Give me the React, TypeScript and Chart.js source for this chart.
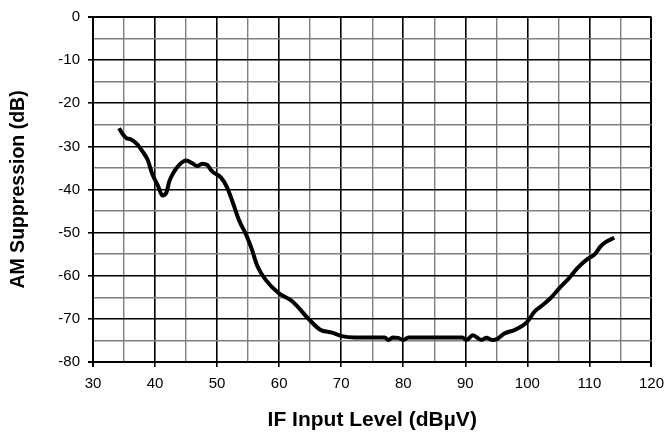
import { useEffect, useRef } from 'react';
import { Chart, ChartConfiguration, registerables } from 'chart.js';

Chart.register(...registerables);

// Input level (dBuV) and AM suppression (dB)
const inputLevel = [
  34.2, 34.8, 35.4, 36.0, 36.9, 38.0, 38.8, 39.6, 40.4, 41.2,
  41.8, 42.3, 43.1, 43.9, 45.0, 46.0, 46.8, 47.6, 48.4, 49.2,
  50.6, 51.6, 52.4, 53.5, 54.8, 55.6, 56.5, 57.8, 59.9, 62.1,
  64.8, 66.6, 68.5, 70.1, 72.2, 75.0, 77.0, 77.6, 78.3, 79.2,
  80.0, 80.8, 85.0, 89.5, 90.2, 91.2, 92.6, 93.4, 94.4, 95.2,
  96.3, 97.9, 99.3, 100.1, 101.1, 102.2, 103.8, 105.2, 106.5, 108.1,
  109.7, 110.8, 111.8, 112.6, 114.0,
];
const suppression = [
  -25.8, -27.2, -28.1, -28.3, -29.2, -31.2, -33.1, -36.6, -38.9, -41.4,
  -40.8, -38.1, -35.8, -34.3, -33.3, -33.9, -34.6, -34.0, -34.3, -35.8,
  -37.2, -39.5, -42.5, -47.0, -50.9, -53.9, -57.8, -60.9, -64.0, -65.9,
  -70.1, -72.5, -73.2, -74.0, -74.3, -74.3, -74.3, -74.9, -74.3, -74.4,
  -74.9, -74.3, -74.3, -74.3, -74.9, -73.8, -74.9, -74.4, -74.9, -74.6,
  -73.4, -72.6, -71.5, -70.5, -68.4, -67.1, -65.1, -62.8, -60.9, -58.2,
  -56.1, -55.1, -53.2, -52.2, -51.2,
];

const xMin = 30;
const xMax = 120;
const yMin = -80;
const yMax = 0;

const isMajor = (v: number) => Math.abs(v % 10) < 1e-6;

const App = () => {
  const canvasRef = useRef<HTMLCanvasElement>(null);
  const chartRef = useRef<Chart | null>(null);

  useEffect(() => {
    document.body.style.margin = '0';
    if (!canvasRef.current) return;
    const ctx = canvasRef.current.getContext('2d');
    if (!ctx) return;

    Chart.defaults.font.family = "'Liberation Sans', Arial, sans-serif";
    Chart.defaults.color = '#000000';

    const gridColor = (c: any) => (isMajor(c.tick.value) ? '#000000' : '#7f7f7f');
    const tickColor = (c: any) => (isMajor(c.tick.value) ? '#000000' : 'rgba(0,0,0,0)');
    const gridWidth = (edgeA: number, edgeB: number) => (c: any) => {
      const v = c.tick.value;
      if (v === edgeA || v === edgeB) return 2;
      return isMajor(v) ? 1.6 : 1.4;
    };

    const config: ChartConfiguration = {
      type: 'line',
      data: {
        datasets: [
          {
            data: inputLevel.map((x, i) => ({ x, y: suppression[i] })),
            borderColor: '#000000',
            borderWidth: 4,
            pointRadius: 0,
            fill: false,
            cubicInterpolationMode: 'monotone',
          },
        ],
      },
      options: {
        responsive: true,
        maintainAspectRatio: false,
        animation: false,
        layout: {
          padding: { top: 17, right: 18, bottom: 0, left: 0 },
        },
        plugins: {
          legend: { display: false },
          tooltip: { enabled: false },
        },
        scales: {
          x: {
            type: 'linear',
            min: xMin,
            max: xMax,
            afterFit: (scale: any) => {
              scale.height = 72;
            },
            ticks: {
              stepSize: 5,
              autoSkip: false,
              maxRotation: 0,
              padding: 8,
              color: '#000000',
              font: { size: 15 },
              callback: (v: any) => (isMajor(Number(v)) ? String(v) : ''),
            },
            grid: {
              color: gridColor,
              tickColor: tickColor,
              lineWidth: gridWidth(xMin, xMax),
              tickLength: 5,
            },
            border: { display: true, color: '#000000', width: 2 },
            title: {
              display: true,
              text: 'IF Input Level (dBµV)',
              color: '#000000',
              font: { size: 21, weight: 'bold' },
              padding: { top: 0, bottom: 1 },
            },
          },
          y: {
            type: 'linear',
            min: yMin,
            max: yMax,
            afterFit: (scale: any) => {
              scale.width = 93;
            },
            ticks: {
              stepSize: 5,
              autoSkip: false,
              padding: 8,
              color: '#000000',
              font: { size: 15 },
              callback: (v: any) => (isMajor(Number(v)) ? String(v) : ''),
            },
            grid: {
              color: gridColor,
              tickColor: tickColor,
              lineWidth: gridWidth(yMin, yMax),
              tickLength: 5,
            },
            border: { display: true, color: '#000000', width: 2 },
            title: {
              display: true,
              text: 'AM Suppression (dB)',
              color: '#000000',
              font: { size: 19.5, weight: 'bold' },
              padding: { top: 7, bottom: 0 },
            },
          },
        },
      },
    };

    chartRef.current = new Chart(ctx, config);

    return () => {
      if (chartRef.current) {
        chartRef.current.destroy();
        chartRef.current = null;
      }
    };
  }, []);

  return (
    <div style={{ width: 672, height: 434, position: 'relative', background: '#ffffff' }}>
      <canvas ref={canvasRef}></canvas>
    </div>
  );
};

export default App;
